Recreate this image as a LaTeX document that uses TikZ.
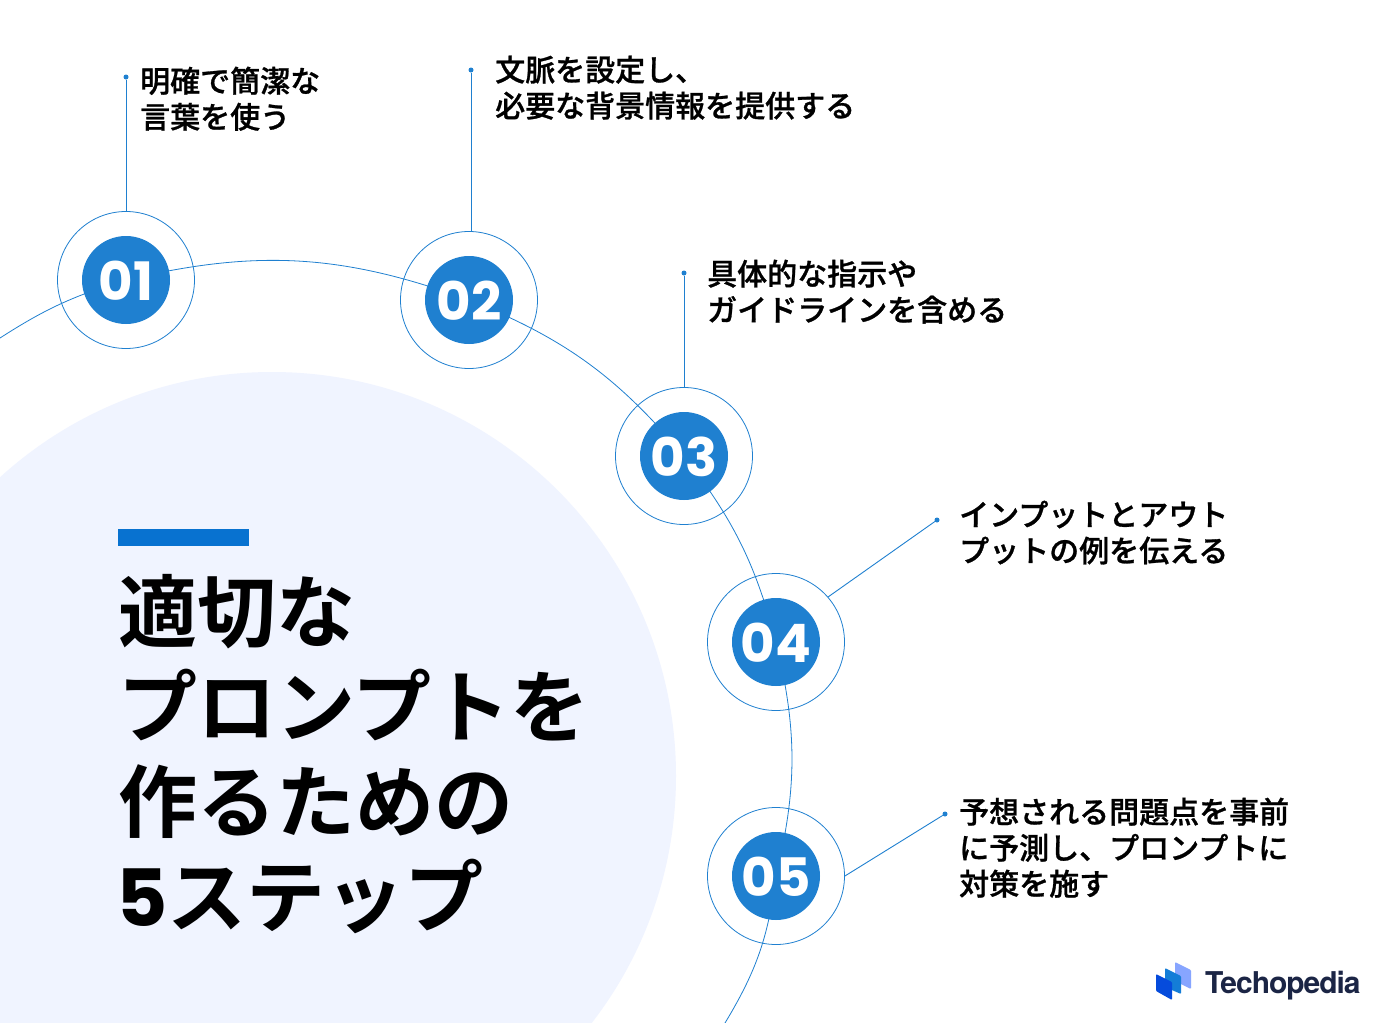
\documentclass[tikz,border=0pt]{standalone}
\usepackage{fontspec}
\setmainfont{DejaVu Sans}
\newfontfamily\digitfont{Poppins}
\newfontfamily\jpfont[FakeBold=0.9]{Noto Sans CJK JP Medium}
\newfontfamily\jpbold{Noto Sans CJK JP Bold}
\newfontfamily\logofont[LetterSpace=-3.4]{TeX Gyre Heros}
\usetikzlibrary{positioning}
\definecolor{stepblue}{RGB}{31,128,208}
\definecolor{barblue}{RGB}{8,114,208}
\definecolor{paleblue}{RGB}{240,244,255}
\definecolor{logonavy}{RGB}{27,37,69}
\definecolor{logoback}{RGB}{135,165,255}
\definecolor{logomid}{RGB}{20,125,215}
\definecolor{logofront}{RGB}{5,75,220}

\begin{document}
\begin{tikzpicture}[
  x=1pt, y=-1pt,
  ring/.style={circle, draw=stepblue, line width=0.8pt, minimum size=137pt, inner sep=0pt},
  disk/.style={circle, fill=stepblue, text=white, minimum size=88pt, inner sep=0pt,
               text height=41pt, text depth=0pt,
               font=\digitfont\fontsize{53}{53}\selectfont\bfseries},
  dot/.style={circle, fill=stepblue, minimum size=5pt, inner sep=0pt},
  arc/.style={draw=stepblue, line width=0.8pt},
  lead/.style={draw=stepblue, line width=0.9pt},
  lbl/.style={anchor=north west, inner sep=0pt, align=left, text=black,
              font=\jpfont\fontsize{30}{36}\selectfont},
  ttl/.style={anchor=north west, inner sep=0pt, align=left, text=black,
              font=\jpbold\fontsize{79}{95}\selectfont},
  logoleaf/.style={rounded corners=1pt},
]
\useasboundingbox (0,0) rectangle (1390,1023);
\fill[white] (0,0) rectangle (1390,1023);
\begin{scope}
\clip (0,0) rectangle (1390,1023);
\fill[paleblue] (272,776) circle (404);

% outer rings
\node[ring] (r1) at (126,280) {};
\node[ring] (r2) at (469,300) {};
\node[ring] (r3) at (684,456) {};
\node[ring] (r4) at (776,642) {};
\node[ring] (r5) at (776,876) {};

\coordinate (arcin) at (0,338);
\coordinate (arcout) at (725,1023);

% big arc, behind the disks
\draw[arc] (arcin) to[bend left=8] (r1.center);
\draw[arc] (r1.center) to[bend left=16.7] (r2.center);
\draw[arc] (r2.center) to[bend left=14] (r3.center);
\draw[arc] (r3.center) to[bend left=11.5] (r4.center);
\draw[arc] (r4.center) to[bend left=13.5] (r5.center);
\draw[arc] (r5.center) to[bend left=12] (arcout);

\node[disk] (d1) at (r1) {01};
\node[disk] (d2) at (r2) {02};
\node[disk] (d3) at (r3) {03};
\node[disk] (d4) at (r4) {04};
\node[disk] (d5) at (r5) {05};

% leader dots
\node[dot] (p1) at (126,77) {};
\node[dot] (p2) at (471,70) {};
\node[dot] (p3) at (684,273) {};
\node[dot] (p4) at (937,520) {};
\node[dot] (p5) at (945,814) {};
\coordinate (q2) at (471,232);
\coordinate (q4) at (828,597);

\draw[lead] (p1) -- (r1);
\draw[lead] (p2) -- (q2);
\draw[lead] (p3) -- (r3);
\draw[lead] (p4) -- (q4);
\draw[lead] (p5) -- (r5.east);

% labels
\node[lbl] (t1) at (140,66.5) {明確で簡潔な\\言葉を使う};
\node[lbl] (t2) at (495,55.5) {文脈を設定し、\\必要な背景情報を提供する};
\node[lbl] (t3) at (707,259.5) {具体的な指示や\\ガイドラインを含める};
\node[lbl] (t4) at (959,500.5) {インプットとアウト\\プットの例を伝える};
\node[lbl] (t5) at (959,797.5) {予想される問題点を事前\\に予測し、プロンプトに\\対策を施す};

% title block
\fill[barblue] (118,529) rectangle (249,546);
\node[ttl] (title) at (118,574) {適切な\\プロンプトを\\作るための\\{\digitfont\bfseries\hspace{-2pt}5}ステップ};

% logo
\fill[logoleaf, logoback] (1175,962) -- (1191,970) -- (1191,989) -- (1175,981) -- cycle;
\fill[logoleaf, logomid] (1165,968) -- (1181,976) -- (1181,994) -- (1165,987) -- cycle;
\fill[logoleaf, logofront] (1156,974) -- (1172,982) -- (1172,1000) -- (1156,991) -- cycle;
\node[anchor=base west, inner sep=0pt, text=logonavy, font=\logofont\fontsize{30}{30}\selectfont\bfseries] (logo) at (1205,993) {Techopedia};
\end{scope}
\end{tikzpicture}
\end{document}
